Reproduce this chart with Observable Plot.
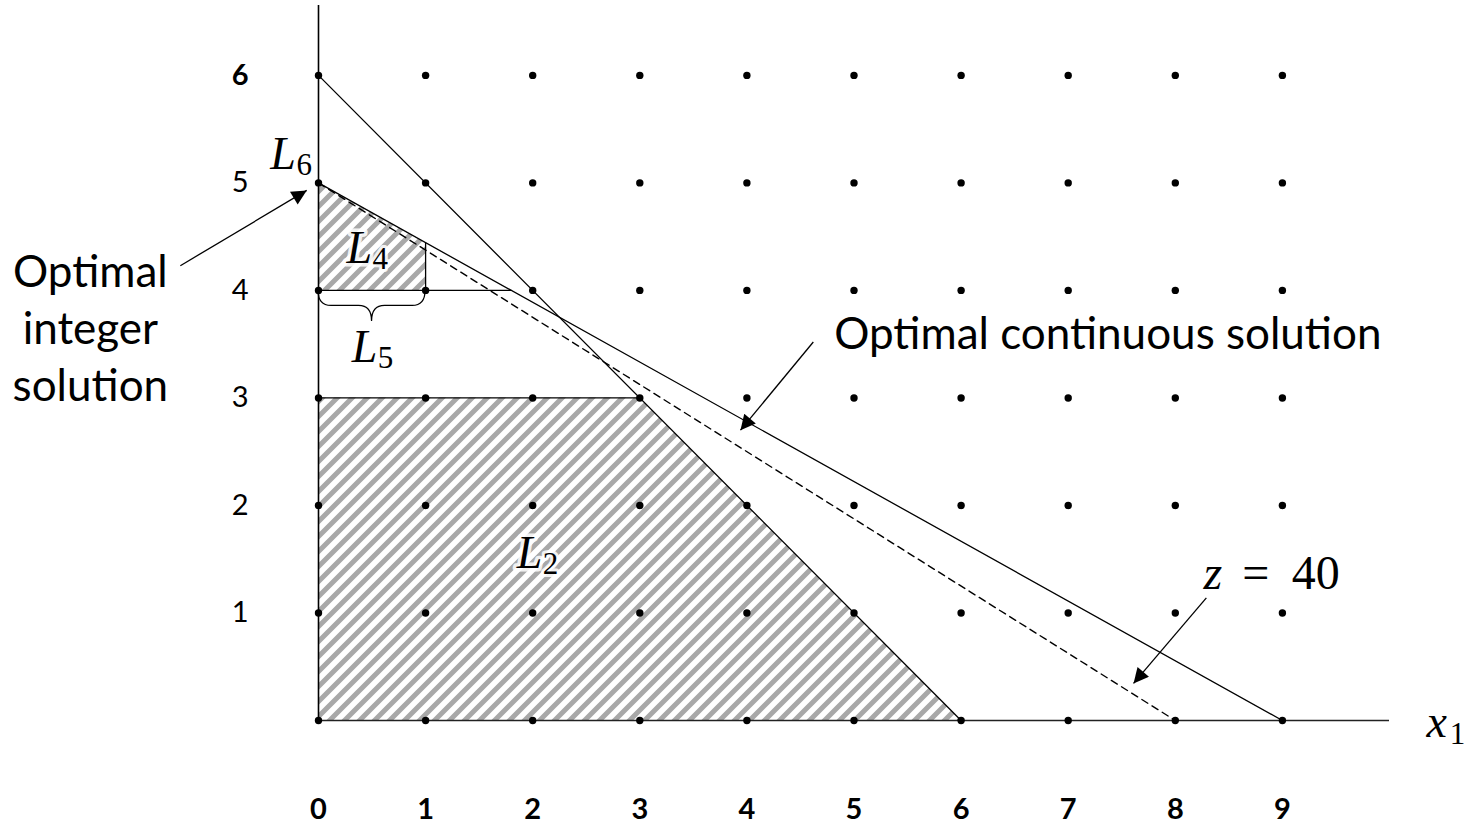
<!DOCTYPE html>
<html>
<head>
<meta charset="utf-8">
<script src="https://cdn.jsdelivr.net/npm/d3@7"></script>
<script src="https://cdn.jsdelivr.net/npm/@observablehq/plot@0.6"></script>
<style>
  html, body { margin: 0; padding: 0; background: #fff; }
</style>
</head>
<body>
<div id="chart"></div>
<script>
// ---- data ----
const xTicks = [0, 1, 2, 3, 4, 5, 6, 7, 8, 9];
const yTicksRegular = [1, 2, 3, 4, 5];
const yTicksBold = [6];
const latticeY = [0, 1, 2, 3, 4, 5, 6];

// constraint lines (endpoints on the axes)
const constraintA = [{x: 0, y: 6}, {x: 6, y: 0}];
const constraintB = [{x: 0, y: 5}, {x: 9, y: 0}];
const objectiveZ40 = [{x: 0, y: 5}, {x: 8, y: 0}];

// hatched sub-problem regions (upper boundary, lower bound y1)
const regionL2 = [{x: 0, y: 3}, {x: 3, y: 3}, {x: 6, y: 0}];
const regionL2Base = 0;
const regionL4 = [{x: 0, y: 5}, {x: 1, y: 40 / 9}];
const regionL4Base = 4;

// branching cut segments
const cutSegments = [
  {x1: 0, y1: 3, x2: 3, y2: 3},
  {x1: 0, y1: 4, x2: 1.8, y2: 4},
  {x1: 1, y1: 4, x2: 1, y2: 40 / 9}
];

// brace under L5
const braceSpan = {x1: 0, x2: 1, y: 4};

// annotation arrows (tail -> head)
const arrows = [
  {x1: -1.29, y1: 4.23, x2: -0.11, y2: 4.93},
  {x1: 4.62, y1: 3.52, x2: 3.94, y2: 2.70},
  {x1: 8.29, y1: 1.14, x2: 7.61, y2: 0.345}
];

// plain text annotations
const notes = [
  {text: "Optimal\ninteger\nsolution", x: -2.13, y: 3.67},
  {text: "Optimal continuous solution", x: 7.37, y: 3.63}
];

// math labels: italic base letter + upright subscript
const mathLabels = [
  {base: "L", sub: "6", x: -0.33, y: 5.27},
  {base: "L", sub: "4", x: 0.38, y: 4.39},
  {base: "L", sub: "5", x: 0.43, y: 3.47},
  {base: "L", sub: "2", x: 1.97, y: 1.56},
  {base: "x", sub: "1", x: 10.44, y: -0.02}
];
const zLabel = {base: "z", eq: "=", num: "40", x: 8.35, y: 1.37};

// ---- helpers ----
const lattice = d3.cross(xTicks, latticeY).map(([x, y]) => ({x, y}));

const defsMark = () => {
  const defs = d3.create("svg:defs");
  const p = defs.append("pattern")
    .attr("id", "hatch")
    .attr("patternUnits", "userSpaceOnUse")
    .attr("width", 15).attr("height", 15);
  p.append("path")
    .attr("d", "M-3.75,3.75 L3.75,-3.75 M0,15 L15,0 M11.25,18.75 L18.75,11.25")
    .attr("stroke", "#a8a8a8")
    .attr("stroke-width", 5)
    .attr("fill", "none");
  const m = defs.append("marker")
    .attr("id", "tri")
    .attr("viewBox", "0 0 10 10")
    .attr("refX", 10).attr("refY", 5)
    .attr("markerUnits", "userSpaceOnUse")
    .attr("markerWidth", 20).attr("markerHeight", 15)
    .attr("orient", "auto");
  m.append("path").attr("d", "M0,0 L10,5 L0,10 Z").attr("fill", "black");
  return defs.node();
};

const braceMark = (index, scales) => {
  const xa = scales.x(braceSpan.x1), xb = scales.x(braceSpan.x2);
  const y0 = scales.y(braceSpan.y);
  const xm = (xa + xb) / 2, h = 31, r = 13;
  const d = `M${xa},${y0} Q${xa},${y0 + h / 2} ${xa + r},${y0 + h / 2} L${xm - r},${y0 + h / 2} ` +
            `Q${xm},${y0 + h / 2} ${xm},${y0 + h} Q${xm},${y0 + h / 2} ${xm + r},${y0 + h / 2} ` +
            `L${xb - r},${y0 + h / 2} Q${xb},${y0 + h / 2} ${xb},${y0}`;
  return d3.create("svg:path").attr("d", d).attr("fill", "none")
    .attr("stroke", "black").attr("stroke-width", 1.2).node();
};

const mathFont = "Liberation Serif";
const textFont = "Lato";

const chart = Plot.plot({
  width: 1473,
  height: 827,
  marginLeft: 318,
  marginRight: 84,
  marginTop: 5,
  marginBottom: 107,
  x: {domain: [0, 10], label: null},
  y: {domain: [0, 6.65], label: null},
  style: {fontFamily: textFont, background: "white", overflow: "visible"},
  marks: [
    defsMark,
    Plot.areaY(regionL2, {x: "x", y: "y", y1: regionL2Base, fill: "url(#hatch)"}),
    Plot.areaY(regionL4, {x: "x", y: "y", y1: regionL4Base, fill: "url(#hatch)"}),
    Plot.ruleX([0], {y1: 0, y2: 6.65, stroke: "black", strokeWidth: 1.6}),
    Plot.ruleY([0], {x1: 0, x2: 10, stroke: "#222", strokeWidth: 1.6}),
    Plot.line(constraintA, {x: "x", y: "y", stroke: "black", strokeWidth: 1.3}),
    Plot.line(constraintB, {x: "x", y: "y", stroke: "black", strokeWidth: 1.3}),
    Plot.line(objectiveZ40, {x: "x", y: "y", stroke: "black", strokeWidth: 1.4, strokeDasharray: "7,5"}),
    Plot.link(cutSegments, {x1: "x1", y1: "y1", x2: "x2", y2: "y2", stroke: "black", strokeWidth: 1.3}),
    braceMark,
    Plot.dot(lattice, {x: "x", y: "y", r: 3.7, fill: "black", stroke: null}),
    Plot.link(arrows, {x1: "x1", y1: "y1", x2: "x2", y2: "y2", stroke: "black", strokeWidth: 1.3}),
    Plot.axisX(xTicks, {tickSize: 0, tickPadding: 78, fontSize: 29, fontWeight: "bold", tickFormat: "d", label: null}),
    Plot.axisY(yTicksRegular, {tickSize: 0, tickPadding: 70, fontSize: 29, tickFormat: "d", label: null}),
    Plot.axisY(yTicksBold, {tickSize: 0, tickPadding: 70, fontSize: 29, fontWeight: "bold", tickFormat: "d", label: null}),
    Plot.text(notes, {x: "x", y: "y", text: "text", fontSize: 44, lineHeight: 1.3, fill: "black", fontFamily: textFont}),
    Plot.text(mathLabels, {x: "x", y: "y", text: "base", fontSize: 46, fontStyle: "italic", fontFamily: mathFont,
      fill: "black", stroke: "white", strokeWidth: 7, strokeOpacity: 0.85}),
    Plot.text(mathLabels, {x: "x", y: "y", text: "sub", fontSize: 31, dx: 21, dy: 11, fontFamily: mathFont,
      fill: "black", stroke: "white", strokeWidth: 6, strokeOpacity: 0.85}),
    Plot.text([zLabel], {x: "x", y: "y", text: "base", fontSize: 48, fontStyle: "italic", fontFamily: mathFont, fill: "black"}),
    Plot.text([zLabel], {x: "x", y: "y", text: "eq", fontSize: 48, dx: 43, fontFamily: mathFont, fill: "black"}),
    Plot.text([zLabel], {x: "x", y: "y", text: "num", fontSize: 48, dx: 103, fontFamily: mathFont, fill: "black"})
  ]
});

d3.select(chart).selectAll('g[aria-label="link"]').filter((d, i, nodes) => i === 1)
  .selectAll("path, line").attr("marker-end", "url(#tri)");

document.getElementById("chart").appendChild(chart);
</script>
</body>
</html>
